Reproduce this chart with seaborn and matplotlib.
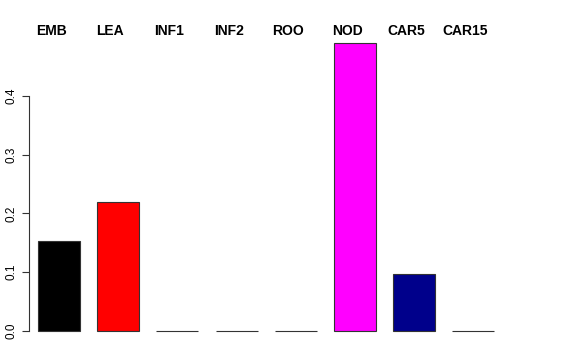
import pandas as pd
import seaborn as sns
import matplotlib.pyplot as plt
import matplotlib.transforms as mtransforms

# values
tissues = ['EMB', 'LEA', 'INF1', 'INF2', 'ROO', 'NOD', 'CAR5', 'CAR15']
values = [0.153, 0.220, 0.0, 0.0, 0.0, 0.490, 0.097, 0.0]
colors = ['#000000', '#FF0000', '#00CD00', '#0000FF', '#00FFFF', '#FF00FF', '#00008B', '#BEBEBE']
yticks = [0.0, 0.1, 0.2, 0.3, 0.4]

df = pd.DataFrame({'tissue': tissues, 'value': values})

sns.set_style('white')
plt.rcParams['font.family'] = ['Liberation Sans', 'DejaVu Sans']
plt.rcParams['text.color'] = 'black'
plt.rcParams['ytick.color'] = 'black'

fig = plt.figure(figsize=(5.76, 3.6), dpi=100)
# axes placed in pixel terms: left 29, right 540, bottom 342, top 31
ax = fig.add_axes([29 / 576, (360 - 342.5) / 360, (540 - 29) / 576, (342.5 - 31.5) / 360])

sns.barplot(data=df, x='tissue', y='value', hue='tissue', palette=colors,
            order=tissues, hue_order=tissues, legend=False, width=0.71,
            edgecolor='#333333', linewidth=0.8, saturation=1, ax=ax)

ax.set_xlim(-0.507, 8.125)
ax.set_ylim(-0.0196, 0.5096)
ax.set_xlabel('')
ax.set_ylabel('')
ax.set_xticks([])

ax.set_yticks(yticks)
ax.set_yticklabels([f'{t:.1f}' for t in yticks], rotation=90, va='center', fontsize=8.5)
ax.tick_params(axis='y', left=True, length=5, width=0.8, color='#333333',
               labelcolor='black', pad=3)

for side in ['top', 'right', 'bottom']:
    ax.spines[side].set_visible(False)
ax.spines['left'].set_bounds(0.0, 0.4)
ax.spines['left'].set_color('#333333')
ax.spines['left'].set_linewidth(0.8)

# tissue names above the bars (slightly left of bar centres, as in the reference)
shift = mtransforms.ScaledTranslation(-8 / 100, 0, fig.dpi_scale_trans)
for i, name in enumerate(tissues):
    ax.text(i, 0.5096, name, ha='center', va='center', fontsize=10, color='black',
            fontweight='bold', transform=ax.transData + shift, clip_on=False)

fig.savefig('out.png', dpi=100)
